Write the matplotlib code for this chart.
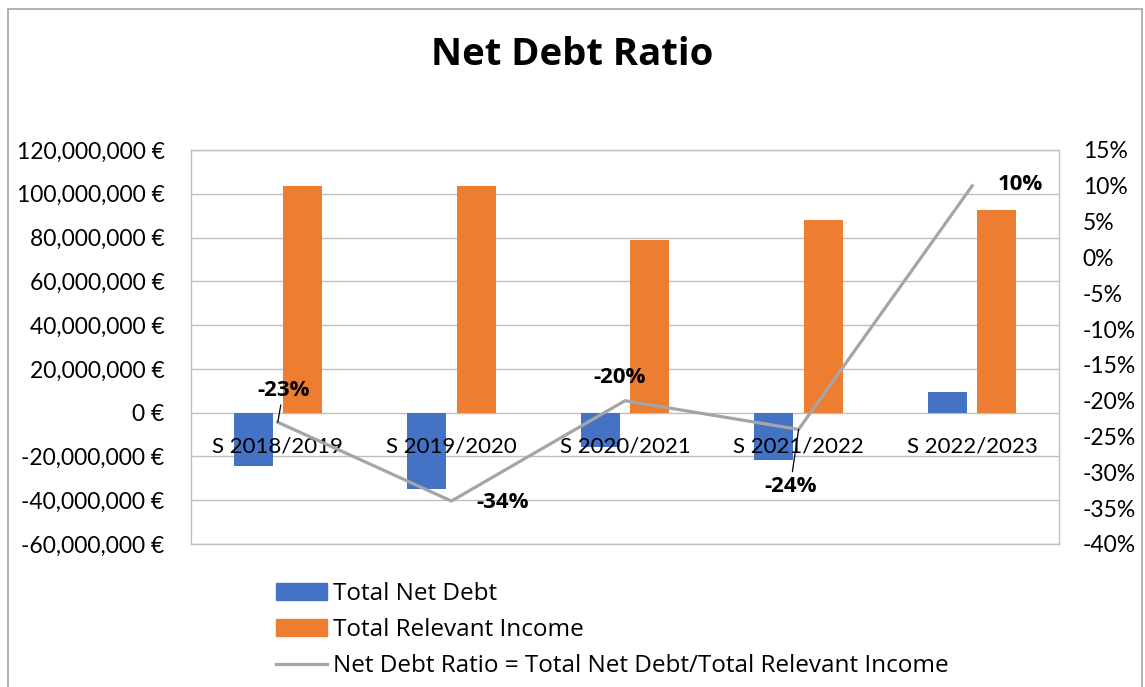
import matplotlib
matplotlib.use("Agg")
import matplotlib.pyplot as plt
from matplotlib.ticker import FuncFormatter, MultipleLocator
from matplotlib.patches import Rectangle, Patch
from matplotlib.lines import Line2D
from matplotlib.transforms import offset_copy
import numpy as np

# ======================
# |        DATA        |
# ======================
seasons = ["S 2018/2019", "S 2019/2020", "S 2020/2021", "S 2021/2022", "S 2022/2023"]
net_debt = [-24_500_000, -35_000_000, -15_800_000, -21_500_000, 9_300_000]
relevant_income = [103_500_000, 103_500_000, 79_000_000, 88_000_000, 92_700_000]
ratio = [-0.23, -0.34, -0.20, -0.24, 0.10]
ratio_labels = ["-23%", "-34%", "-20%", "-24%", "10%"]

# label offsets in points (dx, dy) and whether a leader line is drawn
label_offsets = [(4, 23), (37, -1), (-4, 17), (-6, -41), (35, 1)]
label_leaders = [True, False, False, True, False]

BLUE = "#4472C4"
ORANGE = "#ED7D31"
GREY = "#A5A5A5"
GRID = "#BFBFBF"

plt.rcParams["font.family"] = ["Lato", "DejaVu Sans"]
WIDE = ["Open Sans", "DejaVu Sans"]

# ======================
# |       FIGURE       |
# ======================
fig = plt.figure(figsize=(11.45, 6.87), dpi=100)
ax = fig.add_axes([191 / 1145, 1 - 544 / 687, (1059 - 191) / 1145, (544 - 150) / 687])
ax2 = ax.twinx()

x = np.arange(len(seasons))
w = 0.225
ax.bar(x - 0.142, net_debt, w, color=BLUE, zorder=3)
ax.bar(x + 0.142, relevant_income, w, color=ORANGE, zorder=3)

ax.set_xlim(-0.5, len(seasons) - 0.5)
ax.set_ylim(-60_000_000, 120_000_000)
ax.yaxis.set_major_locator(MultipleLocator(20_000_000))
ax.yaxis.set_major_formatter(FuncFormatter(lambda v, p: f"{v:,.0f} €"))
ax.grid(axis="y", color=GRID, linewidth=1, zorder=0)
ax.set_xticks([])
ax.tick_params(axis="y", length=0, pad=19, labelsize=16.5)
for s in ax.spines.values():
    s.set_color(GRID)
    s.set_linewidth(1)

# Category labels sit along the zero line
for i, name in enumerate(seasons):
    ax2.text(i, 0, name, transform=offset_copy(ax.transData, fig=fig, x=0, y=-17, units="points"),
             ha="center", va="top", fontsize=16, zorder=4)

# Ratio line on secondary axis
ax2.plot(x, ratio, color=GREY, linewidth=2.3, zorder=5)
ax2.set_ylim(-0.40, 0.15)
ax2.yaxis.set_major_locator(MultipleLocator(0.05))
ax2.yaxis.set_major_formatter(FuncFormatter(lambda v, p: f"{int(round(v * 100))}%"))
ax2.tick_params(axis="y", length=0, pad=17, labelsize=16.5)
for s in ax2.spines.values():
    s.set_visible(False)

for i in range(len(seasons)):
    dx, dy = label_offsets[i]
    arrow = dict(arrowstyle="-", color="black", lw=0.9, shrinkA=1, shrinkB=0) if label_leaders[i] else None
    ax2.annotate(ratio_labels[i], (x[i], ratio[i]), xytext=(dx, dy), textcoords="offset points",
                 ha="center", va="center", fontsize=16, fontweight="bold", family=WIDE,
                 zorder=6, arrowprops=arrow)

# Title
fig.text(0.5, 1 - 55 / 687, "Net Debt Ratio", ha="center", va="center",
         fontsize=27.5, fontweight="bold", family=WIDE)

# Legend
handles = [Patch(color=BLUE), Patch(color=ORANGE), Line2D([], [], color=GREY, linewidth=2.3)]
names = ["Total Net Debt", "Total Relevant Income",
         "Net Debt Ratio = Total Net Debt/Total Relevant Income"]
fig.legend(handles, names, loc="upper left", bbox_to_anchor=(266 / 1145, 1 - 572 / 687),
           frameon=False, prop={"family": WIDE, "size": 17.5}, handlelength=2.1,
           handletextpad=0.25, labelspacing=0.5, borderaxespad=0)

# Chart border
fig.patches.append(Rectangle((8 / 1145, -0.02), (1142 - 8) / 1145, 1.02 - 9 / 687,
                             transform=fig.transFigure, fill=False, edgecolor="#A6A6A6",
                             linewidth=1.2))

fig.savefig("out.png", dpi=100)
